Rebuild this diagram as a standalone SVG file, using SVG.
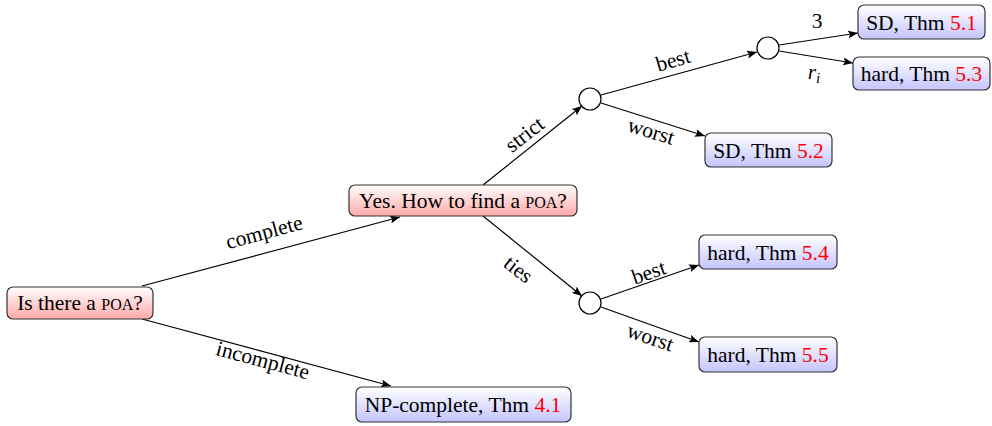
<svg xmlns="http://www.w3.org/2000/svg" width="992" height="426" viewBox="0 0 992 426">
<style>
text{font-family:'Liberation Serif','DejaVu Serif',serif;font-size:21.5px;fill:#000}
.n rect{stroke:#333;stroke-width:1.2}
.red .b{fill:url(#gr)}
.blue .b{fill:url(#gb)}
.num{fill:#f00}
.sc{font-size:16px}
.c{fill:#fff;stroke:#000;stroke-width:1.2}
#edges line{stroke:#000;stroke-width:1.2;marker-end:url(#ah)}
.lab{text-anchor:middle}
</style>
<defs>
<linearGradient id="gr" x1="0" y1="0" x2="0" y2="1"><stop offset="0" stop-color="#fff"/><stop offset="1" stop-color="#ffa8a8"/></linearGradient>
<linearGradient id="gb" x1="0" y1="0" x2="0" y2="1"><stop offset="0" stop-color="#fff"/><stop offset="1" stop-color="#c4c4ff"/></linearGradient>
<marker id="ah" viewBox="0 0 10 8" refX="10" refY="4" markerWidth="10" markerHeight="8" markerUnits="userSpaceOnUse" orient="auto"><path d="M0,0 L10,4 L0,8 L2,4 Z" fill="#000"/></marker>
</defs>
<g id="edges">
<line x1="142" y1="286" x2="400" y2="217"/>
<line x1="142" y1="319" x2="391" y2="386"/>
<line x1="483" y1="185" x2="582" y2="106"/>
<line x1="483" y1="216" x2="582" y2="296"/>
<line x1="601" y1="95" x2="757" y2="52"/>
<line x1="601" y1="103" x2="705" y2="136"/>
<line x1="779" y1="45" x2="858" y2="33"/>
<line x1="779" y1="51" x2="853" y2="63"/>
<line x1="601" y1="299" x2="699" y2="265"/>
<line x1="601" y1="307" x2="699" y2="342"/>
<text class="lab" transform="translate(266,239) rotate(-15)">complete</text>
<text class="lab" transform="translate(261,367) rotate(15)">incomplete</text>
<text class="lab" transform="translate(529,140) rotate(-38)">strict</text>
<text class="lab" transform="translate(514,275) rotate(38)">ties</text>
<text class="lab" transform="translate(675,67) rotate(-16)">best</text>
<text class="lab" transform="translate(649,138) rotate(17)">worst</text>
<text class="lab" x="817" y="28">3</text>
<text class="lab" x="814" y="79" font-style="italic">r<tspan font-size="15" dy="4">i</tspan></text>
<text class="lab" transform="translate(651,279) rotate(-19)">best</text>
<text class="lab" transform="translate(648,344) rotate(19)">worst</text>
</g>
<g id="n0" class="n red"><rect class="b" x="7" y="287" width="146" height="32" rx="6"/><text x="80" y="310" text-anchor="middle">Is there a <tspan class="sc">POA</tspan>?</text></g>
<g id="n1" class="n red"><rect class="b" x="349" y="185" width="228" height="31" rx="6"/><text x="463" y="208" text-anchor="middle">Yes. How to find a <tspan class="sc">POA</tspan>?</text></g>
<g id="n2" class="n blue"><rect class="b" x="356" y="387" width="215" height="35" rx="6"/><text x="463" y="412" text-anchor="middle">NP-complete, Thm <tspan class="num">4.1</tspan></text></g>
<g id="c1"><circle class="c" cx="590" cy="99" r="11"/></g>
<g id="c2"><circle class="c" cx="768" cy="48" r="11"/></g>
<g id="c3"><circle class="c" cx="590" cy="303" r="11"/></g>
<g id="n3" class="n blue"><rect class="b" x="858" y="5" width="127" height="34" rx="6"/><text x="921.5" y="30" text-anchor="middle">SD, Thm <tspan class="num">5.1</tspan></text></g>
<g id="n4" class="n blue"><rect class="b" x="853" y="57" width="137" height="33" rx="6"/><text x="921.5" y="81" text-anchor="middle">hard, Thm <tspan class="num">5.3</tspan></text></g>
<g id="n5" class="n blue"><rect class="b" x="705" y="133" width="127" height="34" rx="6"/><text x="768.5" y="158" text-anchor="middle">SD, Thm <tspan class="num">5.2</tspan></text></g>
<g id="n6" class="n blue"><rect class="b" x="699" y="235" width="138" height="34" rx="6"/><text x="768" y="260" text-anchor="middle">hard, Thm <tspan class="num">5.4</tspan></text></g>
<g id="n7" class="n blue"><rect class="b" x="699" y="337" width="138" height="35" rx="6"/><text x="768" y="362" text-anchor="middle">hard, Thm <tspan class="num">5.5</tspan></text></g>
</svg>
